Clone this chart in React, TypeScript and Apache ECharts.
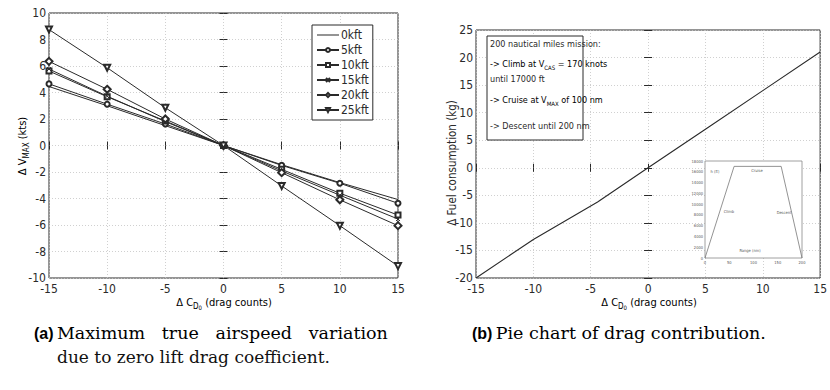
import React, { useEffect, useRef } from "react";
import * as echarts from "echarts";

const dragCounts = [-15, -10, -5, 0, 5, 10, 15];
const v0kft = [4.45, 3.0, 1.5, 0, -1.45, -2.8, -4.08];
const v5kft = [4.65, 3.12, 1.62, 0, -1.5, -2.85, -4.36];
const v10kft = [5.62, 3.68, 1.85, 0, -1.8, -3.6, -5.25];
const v15kft = [5.77, 3.72, 1.8, 0, -1.92, -3.75, -5.55];
const v20kft = [6.35, 4.24, 2.0, 0, -2.05, -4.1, -6.05];
const v25kft = [8.75, 5.87, 2.85, 0, -3.05, -6.05, -9.1];
const seriesNames = ["0kft", "5kft", "10kft", "15kft", "20kft", "25kft"];

const fuelX = [-15, -10, -4.4, 0, 5, 10, 15];
const fuelY = [-20, -13, -6.2, 0, 7, 14, 21];

const insetRange = [0, 60, 157, 200];
const insetAlt = [0, 17000, 17000, 0];

const FONT = "'DejaVu Sans Condensed', 'Liberation Sans Narrow', 'Roboto Condensed', sans-serif";
const SERIF = "'DejaVu Serif', serif";
const INK = "#2a2a2a";

const zip = (xs: number[], ys: number[]) => xs.map((x, i) => [x, ys[i]]);

export default function App() {
  const ref = useRef<HTMLDivElement>(null);
  useEffect(() => {
    if (!ref.current) return;
    const chart = echarts.init(ref.current, null, { renderer: "svg" });

    const tickLabelX = { fontFamily: FONT, fontSize: 12, lineHeight: 11, color: INK, margin: 5 };
    const tickLabelY = { fontFamily: FONT, fontSize: 12, lineHeight: 11, color: INK, margin: 3 };
    const split = { show: true, lineStyle: { color: "#c4c4c4", type: [1, 2] as any, width: 0.8 } };
    const tick = { show: true, inside: true, length: 4, lineStyle: { color: INK } };

    const mainX = (gi: number) => [
      {
        type: "value", gridIndex: gi, min: -15, max: 15, interval: 5, position: "bottom",
        axisLine: { show: false }, axisTick: tick, splitLine: split,
        axisLabel: tickLabelX,
      },
      {
        type: "value", gridIndex: gi, min: -15, max: 15, interval: 5, position: "top",
        axisLine: { show: false }, axisTick: tick, splitLine: { show: false },
        axisLabel: { show: false },
      },
    ];
    const mainY = (gi: number, min: number, max: number, interval: number) => [
      {
        type: "value", gridIndex: gi, min, max, interval, position: "left",
        axisLine: { show: false }, axisTick: tick, splitLine: split,
        axisLabel: tickLabelY,
      },
      {
        type: "value", gridIndex: gi, min, max, interval, position: "right",
        axisLine: { show: false }, axisTick: tick, splitLine: { show: false },
        axisLabel: { show: false },
      },
    ];

    const symbols: any[] = [
      "none",
      "emptyCircle",
      "emptyRect",
      "path://M0,0L10,10M10,0L0,10",
      "emptyDiamond",
      "emptyTriangle",
    ];
    const datas = [v0kft, v5kft, v10kft, v15kft, v20kft, v25kft];
    const leftSeries = datas.map((d, i) => ({
      name: seriesNames[i],
      type: "line",
      xAxisIndex: 0,
      yAxisIndex: 0,
      data: zip(dragCounts, d),
      symbol: symbols[i],
      symbolSize: i === 3 ? 4 : i === 4 ? 7 : i === 5 ? 6 : 5,
      symbolRotate: i === 5 ? 180 : 0,
      showSymbol: i !== 0,
      lineStyle: { color: INK, width: 1 },
      itemStyle: { color: INK, borderColor: INK, borderWidth: 1 },
      z: 3,
    }));

    const lineIcon = "path://M0,0L0.01,0L0.01,0.01ZM0,2L22,2L22,3L0,3ZM21.99,5L22,5L22,4.99Z";

    const rich = {
      n: { fontFamily: FONT, fontSize: 11, color: INK, lineHeight: 17, verticalAlign: "middle" },
      s: { fontFamily: FONT, fontSize: 8, color: INK, lineHeight: 8, verticalAlign: "bottom" },
      ss: { fontFamily: FONT, fontSize: 6, color: INK, lineHeight: 4, verticalAlign: "bottom" },
    };
    const boxText = { fontFamily: FONT, fontSize: 9, color: INK };
    const boxRich = {
      n: { fontFamily: FONT, fontSize: 9, color: INK, lineHeight: 12, verticalAlign: "middle" },
      s: { fontFamily: FONT, fontSize: 6, color: INK, lineHeight: 6, verticalAlign: "bottom" },
    };
    const insetLabel = { fontFamily: FONT, fontSize: 4, color: "#555", formatter: (v: number) => String(v) };
    const captionBold = { fontFamily: "'Liberation Sans', sans-serif", fontWeight: "bold", fontSize: 16, color: "#111" };
    const captionReg = { fontFamily: SERIF, fontSize: 17.5, color: "#111" };

    chart.setOption({
      animation: false,
      backgroundColor: "#fff",
      grid: [
        { left: 49, top: 13, width: 349, height: 265, show: true, borderColor: INK, borderWidth: 1, backgroundColor: "transparent" },
        { left: 476, top: 30, width: 346, height: 248, show: true, borderColor: INK, borderWidth: 1, backgroundColor: "transparent" },
        { left: 705, top: 161, width: 97, height: 97, show: true, borderColor: "#888", borderWidth: 0.8, backgroundColor: "#fff", z: 5 },
      ],
      xAxis: [
        ...mainX(0),
        ...mainX(1),
        {
          type: "value", gridIndex: 2, min: 0, max: 200, interval: 50, z: 6,
          axisLine: { show: false }, axisTick: { show: false }, splitLine: { show: false },
          axisLabel: { ...insetLabel, margin: 2 },
        },
      ],
      yAxis: [
        ...mainY(0, -10, 10, 2),
        ...mainY(1, -20, 25, 5),
        {
          type: "value", gridIndex: 2, min: 0, max: 18000, interval: 2000, z: 6,
          axisLine: { show: false }, axisTick: { show: false }, splitLine: { show: false },
          axisLabel: { ...insetLabel, margin: 2 },
        },
      ],
      legend: {
        orient: "vertical",
        left: 312,
        top: 25,
        data: seriesNames.map((n, i) => (i === 0 ? { name: n, icon: lineIcon, itemStyle: { color: INK, borderWidth: 0 } } : { name: n })),
        backgroundColor: "#fff",
        borderColor: INK,
        borderWidth: 1,
        borderRadius: 0,
        padding: [4, 4, 4, 4],
        itemWidth: 22,
        itemHeight: 5,
        itemGap: 3,
        textStyle: { fontFamily: FONT, fontSize: 12, color: INK, lineHeight: 12, padding: [0, 0, 0, -3] },
        z: 8,
      },
      series: [
        ...leftSeries,
        {
          type: "line",
          xAxisIndex: 2,
          yAxisIndex: 2,
          data: zip(fuelX, fuelY),
          symbol: "none",
          lineStyle: { color: INK, width: 1.1 },
          z: 3,
        },
        {
          type: "line",
          xAxisIndex: 4,
          yAxisIndex: 4,
          data: zip(insetRange, insetAlt),
          symbol: "none",
          lineStyle: { color: "#777", width: 0.8 },
          z: 7,
        },
      ],
      graphic: [
        {
          type: "text", x: 224, y: 302, z: 10,
          style: { text: "{n|Δ C}{s|D}{ss|0}{n| (drag counts)}", rich, align: "center", verticalAlign: "middle" },
        },
        {
          type: "text", x: 649, y: 302, z: 10,
          style: { text: "{n|Δ C}{s|D}{ss|0}{n| (drag counts)}", rich, align: "center", verticalAlign: "middle" },
        },
        {
          type: "text", x: 22, y: 146, rotation: Math.PI / 2, z: 10,
          style: { text: "{n|Δ V}{s|MAX}{n| (kts)}", rich, align: "center", verticalAlign: "middle" },
        },
        {
          type: "text", x: 452, y: 163, rotation: Math.PI / 2, z: 10,
          style: { text: "Δ Fuel consumption (kg)", fontFamily: FONT, fontSize: 11.5, fill: INK, align: "center", verticalAlign: "middle" },
        },
        {
          type: "rect", z: 9,
          shape: { x: 487, y: 36, width: 96, height: 104 },
          style: { fill: "#fff", stroke: INK, lineWidth: 1 },
        },
        { type: "text", x: 490, y: 44, z: 10, style: { text: "200 nautical miles mission:", ...boxText, fill: INK, verticalAlign: "middle" } },
        { type: "text", x: 490, y: 64, z: 10, style: { text: "{n|-> Climb at V}{s|CAS}{n| = 170 knots}", rich: boxRich, verticalAlign: "middle" } },
        { type: "text", x: 490, y: 79, z: 10, style: { text: "until 17000 ft", ...boxText, fill: INK, verticalAlign: "middle" } },
        { type: "text", x: 490, y: 100, z: 10, style: { text: "{n|-> Cruise at V}{s|MAX}{n| of 100 nm}", rich: boxRich, verticalAlign: "middle" } },
        { type: "text", x: 490, y: 126, z: 10, style: { text: "-> Descent until 200 nm", ...boxText, fill: INK, verticalAlign: "middle" } },
        { type: "text", x: 715, y: 171, z: 10, style: { text: "h (ft)", fontFamily: FONT, fontSize: 4, fill: "#555", align: "center", verticalAlign: "middle" } },
        { type: "text", x: 757, y: 170, z: 10, style: { text: "Cruise", fontFamily: FONT, fontSize: 4, fill: "#555", align: "center", verticalAlign: "middle" } },
        { type: "text", x: 729, y: 211, z: 10, style: { text: "Climb", fontFamily: FONT, fontSize: 4, fill: "#555", align: "center", verticalAlign: "middle" } },
        { type: "text", x: 784, y: 212, z: 10, style: { text: "Descent", fontFamily: FONT, fontSize: 4, fill: "#555", align: "center", verticalAlign: "middle" } },
        { type: "text", x: 750, y: 250, z: 10, style: { text: "Range (nm)", fontFamily: FONT, fontSize: 4, fill: "#555", align: "center", verticalAlign: "middle" } },
        {
          type: "text", x: 34, y: 333, z: 10,
          style: {
            text: "{b|(a)} {r|Maximum   true   airspeed   variation}",
            rich: { b: captionBold, r: captionReg },
            verticalAlign: "middle",
          },
        },
        {
          type: "text", x: 57, y: 357, z: 10,
          style: { text: "due to zero lift drag coefficient.", fontFamily: SERIF, fontSize: 17, fill: "#111", verticalAlign: "middle" },
        },
        {
          type: "text", x: 472, y: 333, z: 10,
          style: {
            text: "{b|(b)} {r|Pie chart of drag contribution.}",
            rich: { b: captionBold, r: captionReg },
            verticalAlign: "middle",
          },
        },
      ],
    });
    return () => chart.dispose();
  }, []);
  return <div ref={ref} style={{ position: "absolute", left: 0, top: 0, width: 830, height: 390 }} />;
}
